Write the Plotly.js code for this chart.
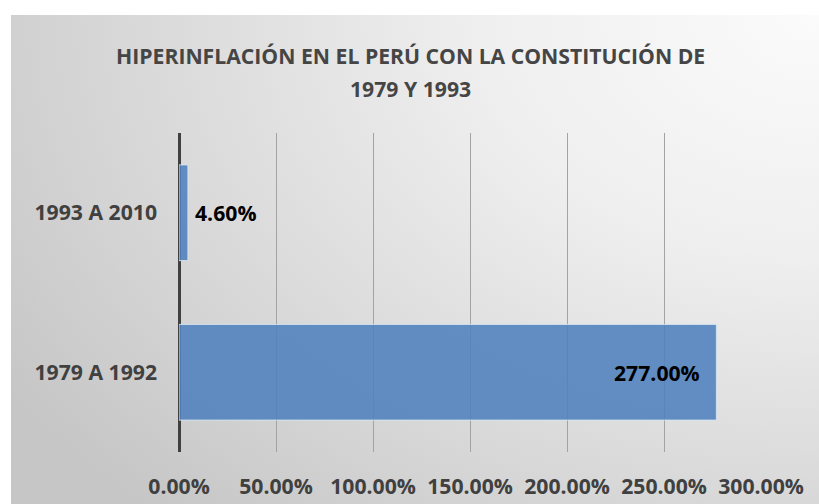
<!DOCTYPE html>
<html>
<head>
<meta charset="utf-8">
<script src="https://cdn.plot.ly/plotly-3.0.1.min.js"></script>
<style>
html,body{margin:0;padding:0;background:#ffffff;}
#bg{position:absolute;left:11px;top:15px;width:808px;height:489px;
background:radial-gradient(ellipse 120% 140% at 100% 0%, #fbfbfb 0%, #efefef 35%, #d9d9d9 70%, #c6c6c6 100%);}
#chart{position:absolute;left:0;top:0;width:819px;height:504px;}
</style>
</head>
<body>
<div id="bg"></div>
<div id="chart"></div>
<script>
const categories = ['1979 A 1992', '1993 A 2010'];
const values = [277.0, 4.6];
const xTicks = [0, 50, 100, 150, 200, 250, 300];
const titleLines = ['HIPERINFLACIÓN EN EL PERÚ CON LA CONSTITUCIÓN DE', '1979 Y 1993'];

const FONT = '"Open Sans", "DejaVu Sans", sans-serif';
const FS = 21.2;

const trace = {
  type: 'bar',
  orientation: 'h',
  y: categories,
  x: values,
  width: 0.6,
  marker: {color: 'rgba(79,129,189,0.88)', line: {color: 'rgba(215,228,243,0.9)', width: 1}},
  textposition: 'none',
  hoverinfo: 'skip'
};

const plotTop = 133, plotBottom = 452, H = 504;
const ph = plotBottom - plotTop;
const titleY = [55, 88];

const annotations = [];
values.forEach((v, i) => {
  const inside = v > 100;
  annotations.push({
    x: v, y: categories[i], xref: 'x', yref: 'y',
    text: '<b>' + v.toFixed(2) + '%</b>',
    showarrow: false,
    xanchor: inside ? 'right' : 'left',
    xshift: inside ? -14 : 5,
    font: {family: FONT, size: FS, color: '#000000'}
  });
});
titleLines.forEach((t, i) => {
  annotations.push({
    xref: 'paper', yref: 'paper',
    x: (410 - 179) / (761 - 179),
    y: (plotBottom - titleY[i]) / ph,
    text: '<b>' + t + '</b>', showarrow: false,
    xanchor: 'center', yanchor: 'middle',
    font: {family: FONT, size: FS, color: '#454545'}
  });
});

const layout = {
  width: 819, height: 504,
  paper_bgcolor: 'rgba(0,0,0,0)',
  plot_bgcolor: 'rgba(0,0,0,0)',
  margin: {l: 179, r: 58, t: plotTop, b: H - plotBottom, pad: 0},
  showlegend: false,
  bargap: 0.4,
  xaxis: {
    range: [0, 300],
    tickvals: xTicks,
    ticktext: xTicks.map(t => '<b>' + t.toFixed(2) + '%</b>'),
    showgrid: true, gridcolor: '#a3a3a3', gridwidth: 1,
    zeroline: true, zerolinecolor: '#404040', zerolinewidth: 3,
    showline: false, ticks: '',
    ticklabelstandoff: 20,
    tickfont: {family: FONT, size: FS, color: '#404040'},
    fixedrange: true
  },
  yaxis: {
    type: 'category',
    categoryorder: 'array', categoryarray: categories,
    range: [-0.5, 1.5],
    showgrid: false, zeroline: false, showline: false, ticks: '',
    ticklabelstandoff: 21,
    tickvals: categories,
    ticktext: categories.map(c => '<b>' + c + '</b>'),
    tickfont: {family: FONT, size: FS, color: '#404040'},
    fixedrange: true
  },
  annotations: annotations
};

Plotly.newPlot('chart', [trace], layout, {displayModeBar: false, staticPlot: true});
</script>
</body>
</html>
